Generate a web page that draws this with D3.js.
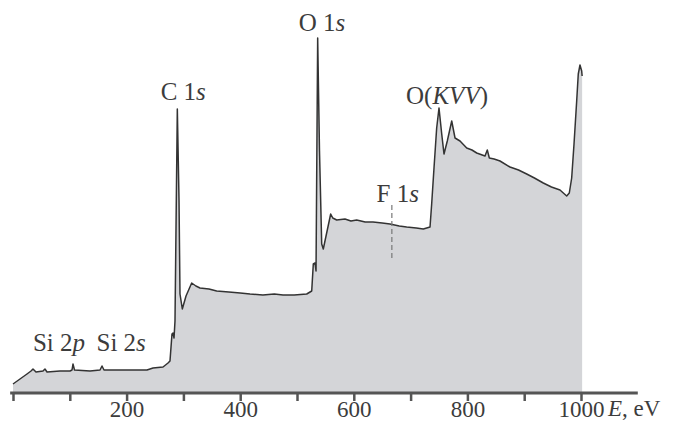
<!DOCTYPE html>
<html>
<head>
<meta charset="utf-8">
<script src="https://cdn.jsdelivr.net/npm/d3@7"></script>
<style>
  body { margin: 0; background: #fff; }
  svg text { font-family: "Liberation Serif", "DejaVu Serif", serif; fill: #3c3c3c; }
</style>
</head>
<body>
<svg width="675" height="423"></svg>
<script>
// XPS survey spectrum (energy in eV, intensity in arb. units)
var energy = [0, 12.3, 24.6, 31.7, 35.2, 40.5, 52.8, 56.3, 59.9, 82.7, 100.4, 103.9, 105.6, 108.3,
  135.6, 153.2, 156.7, 160.2, 197.2, 235.9, 246.5, 264.1, 272.9, 276.4, 279.9, 281.7, 283.5, 285.2,
  289.3, 292.3, 294.0, 298.1, 304.6, 314.6, 322, 329.2, 345, 358.6, 380, 400, 417.3, 440, 460, 475.4,
  495, 517.1, 525.9, 528.7, 531.7,
  533.5, 536.4, 539.6, 543.5, 546.3, 551.1, 559.3, 563, 569.9, 584.5, 595, 605.1, 620, 633.8, 650,
  663.7, 680, 693.1, 710, 722.4,
  734.2, 737.1, 741.2, 745.9, 750.0, 754.8, 758.8, 764.6, 772.4, 778.2, 787.0, 798.8, 808, 816.4, 831.0,
  835.0, 838.6, 847, 857.4, 875.0, 890, 904.4, 918, 933.6, 948, 963.0, 974.8, 979.4, 983.6, 987.7, 992.4,
  995.2, 998.2, 1001.2, 1002];
var intensity = [9, 14, 19, 22, 24, 21, 22, 24, 21, 22, 22, 23, 29, 23,
  22, 23, 27, 23, 23, 23, 25, 26, 30, 32, 59, 60, 55, 72,
  284, 192, 99, 84, 97, 110, 107, 105, 104, 102, 101, 100, 99, 98, 99, 98,
  98, 99, 102, 129, 130,
  122, 355, 242, 149, 144, 157, 179, 175, 173, 174, 172, 173, 171, 171, 170,
  169, 167, 166, 165, 164,
  166, 189, 225, 265, 285, 259, 239, 252, 272, 255, 252, 245, 243, 240, 237,
  243, 235, 234, 232, 226, 223, 219, 215, 210, 206, 203, 197, 200, 215, 249, 292,
  319, 328, 322, 317];

var tickValues = [0, 100, 200, 300, 400, 500, 600, 700, 800, 900, 1000];
var tickLabels = ["", "", "200", "", "400", "", "600", "", "800", "", "1000"];

// peak labels: main text, italic part, energy / intensity anchor of the label
var peakNames = ["Si 2", "Si 2", "C 1", "O 1", "F 1"];
var peakItalic = ["p", "s", "s", "s", "s"];
var peakE = [35, 147, 260, 503, 640];
var peakI = [42, 42, 293, 362, 191];

var svg = d3.select("svg");
var baseY = 393;

var x = d3.scaleLinear().domain([0, 1000]).range([13, 581]);
var y = d3.scaleLinear().domain([0, 356]).range([baseY, 37]);

var pts = energy.map(function (e, i) { return [e, intensity[i]]; });

svg.append("path")
  .datum(pts)
  .attr("fill", "#d4d5d8")
  .attr("d", d3.area()
    .x(function (d) { return x(d[0]); })
    .y0(y(0))
    .y1(function (d) { return y(d[1]); }));

svg.append("path")
  .datum(pts)
  .attr("fill", "none")
  .attr("stroke", "#333")
  .attr("stroke-width", 1.5)
  .attr("stroke-linejoin", "round")
  .attr("d", d3.line()
    .x(function (d) { return x(d[0]); })
    .y(function (d) { return y(d[1]); }));

// axis
svg.append("line")
  .attr("x1", x(-5)).attr("x2", x(1100))
  .attr("y1", baseY).attr("y2", baseY)
  .attr("stroke", "#555").attr("stroke-width", 3);

var ax = svg.append("g")
  .attr("transform", "translate(0," + baseY + ")")
  .call(d3.axisBottom(x)
    .tickValues(tickValues)
    .tickSize(8)
    .tickPadding(0)
    .tickFormat(function (d, i) { return tickLabels[i]; }));
ax.select(".domain").remove();
ax.selectAll(".tick line").attr("stroke", "#555").attr("stroke-width", 2.5);
ax.selectAll(".tick text")
  .attr("font-size", 23)
  .attr("fill", "#3c3c3c")
  .style("font-family", "Liberation Serif, serif");

var unit = svg.append("text")
  .attr("x", x(1000) + 27).attr("y", 416)
  .attr("font-size", 23);
unit.append("tspan").attr("font-style", "italic").text("E");
unit.append("tspan").text(", eV");

// peak labels
peakNames.forEach(function (name, i) {
  var t = svg.append("text")
    .attr("x", x(peakE[i])).attr("y", y(peakI[i]))
    .attr("font-size", 25);
  t.append("tspan").text(name);
  t.append("tspan").attr("font-style", "italic").text(peakItalic[i]);
});

var kvv = svg.append("text")
  .attr("x", x(692)).attr("y", y(289))
  .attr("font-size", 25);
kvv.append("tspan").text("O(");
kvv.append("tspan").attr("font-style", "italic").text("KVV");
kvv.append("tspan").text(")");

// F 1s marker
svg.append("line")
  .attr("x1", x(667)).attr("x2", x(667))
  .attr("y1", y(188)).attr("y2", y(135))
  .attr("stroke", "#777").attr("stroke-width", 1.2)
  .attr("stroke-dasharray", "5,3");
</script>
</body>
</html>
